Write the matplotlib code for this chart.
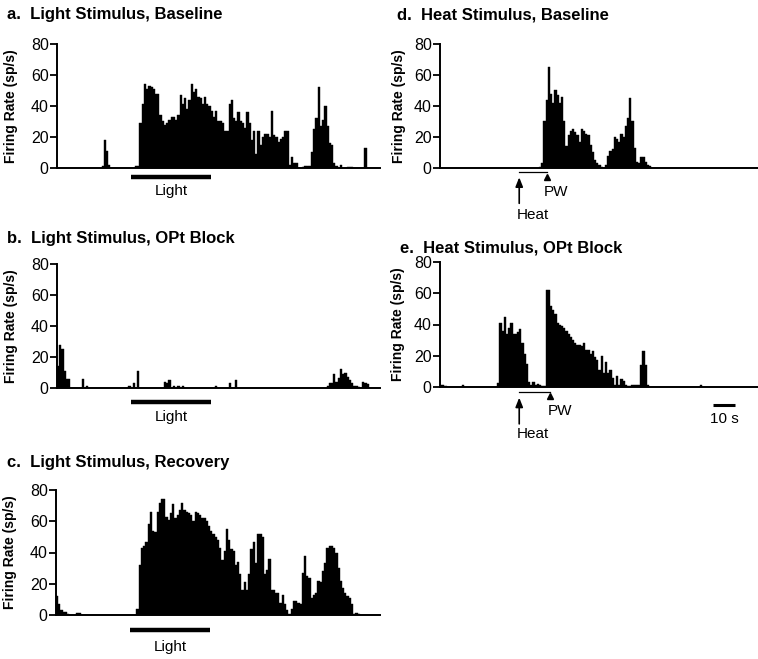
import numpy as np
import matplotlib
matplotlib.use('Agg')
import matplotlib.pyplot as plt

plt.rcParams['font.family'] = ['Liberation Sans', 'DejaVu Sans']

# firing rate per 1 s bin (sp/s)
rate_a = ([0] * 20 + [1, 18, 11, 2] + [0] * 11 + [1, 1]
          + [29, 41, 54, 51, 53, 52, 51, 48, 48, 34, 30, 28, 29, 31, 33, 33, 31, 34,
             47, 41, 45, 38, 44, 54, 49, 51, 46, 45, 41, 46, 41, 40, 37, 33, 37, 30,
             30, 29, 24, 24, 41, 44, 32, 30, 36, 30, 29, 26, 36, 29, 18, 24, 9, 24,
             15, 20, 22, 22, 20, 37, 21, 20, 17, 19, 20, 24, 24, 2, 7, 3, 3, 0, 0,
             0.5, 1, 1, 1, 10, 25, 32, 52, 27, 31, 40, 27, 16, 15, 3, 1, 0, 2, 0, 0,
             0.5, 0.5, 0.5, 0, 0, 0, 0, 0, 13] + [0] * 5)
rate_b = ([14, 28, 25, 11, 6, 6] + [0] * 5 + [6, 0, 1.5] + [0] * 18
          + [1.5, 0, 3, 0, 11] + [0] * 11
          + [4, 3, 5, 0, 1.5, 0, 1.5, 0, 1.5] + [0] * 14 + [1.5] + [0] * 5
          + [3, 0, 0, 5] + [0] * 40
          + [1.5, 3.5, 3, 9, 4, 6.5, 12.5, 9, 10, 7, 5, 3, 1.5, 1, 0.5, 0, 4, 3, 2.5]
          + [0] * 5)
rate_c = ([12, 7, 3, 2, 2, 0.5, 0, 0, 0, 1.5, 1] + [0] * 25
          + [4, 32, 43, 44, 47, 58, 66, 54, 53, 66, 72, 74, 74, 63, 61, 65, 71, 62,
             64, 67, 72, 67, 66, 65, 64, 60, 66, 65, 64, 62,
             62, 60, 57, 54, 52, 50, 48, 43, 35, 41, 55, 48, 42, 41, 32, 34, 26, 16,
             21, 16, 26, 42, 47, 33, 52, 52, 50, 26, 29, 36, 16, 16, 14, 14, 8, 13,
             7, 3, 0.5, 4, 9, 9, 8, 7, 27, 38, 25, 24, 11, 13, 14, 22, 21, 28, 33,
             43, 44, 44, 43, 40, 30, 22, 17, 14, 12, 11, 7, 0.5, 1, 0.5] + [0] * 9)
rate_d = ([0] * 45
          + [0.5, 3, 30, 44, 65, 48, 42, 50, 47, 42, 46, 30, 14, 21, 24, 25, 23, 21,
             17, 25, 24, 22, 21, 15, 10, 5, 3, 2, 0.5, 0, 2, 8, 11, 12, 20, 19, 17,
             22, 20, 27, 32, 45, 30, 13, 4, 3, 7, 7, 4, 2, 1] + [0] * 49)
rate_e = ([1, 1, 0.5] + [0] * 7 + [1] + [0] * 15
          + [2.5, 41, 36, 45, 34, 38, 41, 34, 34, 35, 37, 28, 21, 15, 3, 1, 3, 1, 2,
             1, 0.5, 0.5, 62, 62, 52, 49, 47, 41, 40, 39, 38, 36, 34, 32, 30, 28, 27,
             27, 26, 28, 24, 24, 21, 23, 19, 17, 11, 20, 9, 16, 9, 11, 6, 1, 7, 1.5,
             5, 4, 1, 0.5, 0.5, 1.5, 1.5, 1, 1.5, 14, 23, 14, 1]
          + [0] * 23 + [1] + [0] * 26)

light_on_off = (33.2, 69.0)
heat_on = 36.0
withdrawal = 48.5
scale_bar = (124.2, 134.2)

W, H = 758, 659


def px_axes(left, top, right, bottom):
    return [left / W, 1 - bottom / H, (right - left) / W, (bottom - top) / H]


def draw_hist(ax, rate, xmax, label_x):
    x = np.arange(len(rate))
    ax.bar(x, rate, width=1.0, align='edge', color='black',
           edgecolor='black', linewidth=0.3)
    ax.set_xlim(0, xmax)
    ax.set_ylim(0, 80)
    ax.set_xticks([])
    ax.set_yticks([0, 20, 40, 60, 80])
    ax.tick_params(axis='y', direction='out', length=5, width=1.3,
                   labelsize=11.5, pad=1)
    for side in ('top', 'right'):
        ax.spines[side].set_visible(False)
    for side in ('left', 'bottom'):
        ax.spines[side].set_linewidth(1.4)
    ax.set_ylabel('Firing Rate (sp/s)', fontsize=10, fontweight='bold')
    ax.yaxis.set_label_coords(label_x, 0.5)


def light_marker(ax, bar_y, text_y):
    tr = ax.get_xaxis_transform()
    ax.plot(light_on_off, [bar_y, bar_y], transform=tr, color='black', lw=3.2,
            solid_capstyle='butt', clip_on=False)
    ax.text(sum(light_on_off) / 2, text_y, 'Light', transform=tr,
            ha='center', va='center', fontsize=11)


def heat_marker(ax, line_y, tri_y, tip_y, tail_y, pw_y, heat_y, pw_x):
    tr = ax.get_xaxis_transform()
    ax.plot([heat_on, pw_x], [line_y, line_y], transform=tr, color='black',
            lw=0.9, clip_on=False)
    ax.plot([pw_x], [tri_y], transform=tr, marker='^', ms=4.5, color='black',
            clip_on=False)
    ax.annotate('', xy=(heat_on, tip_y), xytext=(heat_on, tail_y),
                xycoords=tr, textcoords=tr,
                arrowprops=dict(arrowstyle='-|>,head_length=0.55,head_width=0.22',
                                lw=1.2, color='black', shrinkA=0, shrinkB=0))
    ax.text(pw_x - 1.2, pw_y, 'PW', transform=tr, ha='left', va='center',
            fontsize=11)
    ax.text(heat_on - 1.3, heat_y, 'Heat', transform=tr, ha='left',
            va='center', fontsize=11)


fig = plt.figure(figsize=(W / 100, H / 100), dpi=100)

ax_a = fig.add_axes(px_axes(57, 44, 380, 168))
draw_hist(ax_a, rate_a, 145, -0.12)
light_marker(ax_a, -0.073, -0.185)

ax_b = fig.add_axes(px_axes(57, 264, 380, 388))
draw_hist(ax_b, rate_b, 145, -0.12)
light_marker(ax_b, -0.116, -0.235)

ax_c = fig.add_axes(px_axes(56, 490, 380, 615))
draw_hist(ax_c, rate_c, 145, -0.12)
light_marker(ax_c, -0.12, -0.254)

ax_d = fig.add_axes(px_axes(440, 44, 758, 168))
draw_hist(ax_d, rate_d, 144.5, -0.107)
heat_marker(ax_d, -0.035, -0.07, -0.075, -0.285, -0.19, -0.38, withdrawal)

ax_e = fig.add_axes(px_axes(440, 262, 758, 387))
draw_hist(ax_e, rate_e, 144.5, -0.11)
heat_marker(ax_e, -0.04, -0.075, -0.085, -0.295, -0.19, -0.375, withdrawal + 1.5)
tr_e = ax_e.get_xaxis_transform()
ax_e.plot(scale_bar, [-0.147, -0.147], transform=tr_e, color='black', lw=2.2,
          solid_capstyle='butt', clip_on=False)
ax_e.text(sum(scale_bar) / 2, -0.253, '10 s', transform=tr_e, ha='center',
          va='center', fontsize=11)

titles = [
    (7, 15, 'a.  Light Stimulus, Baseline'),
    (7, 239, 'b.  Light Stimulus, OPt Block'),
    (7, 463, 'c.  Light Stimulus, Recovery'),
    (397, 15, 'd.  Heat Stimulus, Baseline'),
    (400, 248, 'e.  Heat Stimulus, OPt Block'),
]
for tx, ty, text in titles:
    fig.text(tx / W, 1 - ty / H, text, fontsize=12, fontweight='bold',
             ha='left', va='center')

fig.savefig('out.png', dpi=100)
